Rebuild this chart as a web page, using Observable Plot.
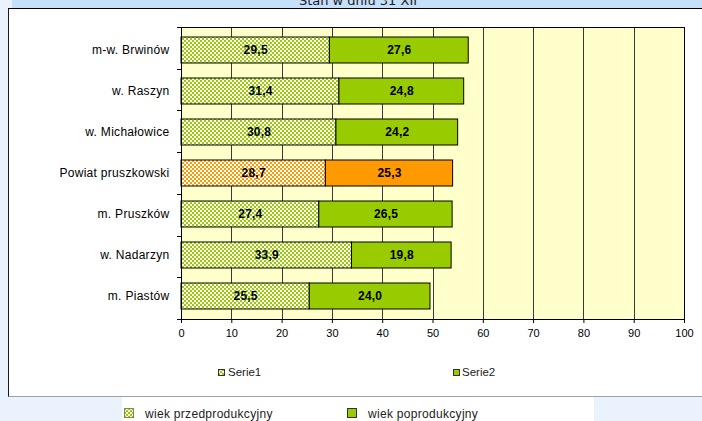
<!DOCTYPE html>
<html><head><meta charset="utf-8">
<script src="https://cdn.jsdelivr.net/npm/d3@7"></script>
<script src="https://cdn.jsdelivr.net/npm/@observablehq/plot@0.6"></script>
<style>
html,body{margin:0;padding:0;}
body{width:702px;height:421px;overflow:hidden;background:#eaf2fd;position:relative;font-family:"Liberation Sans",Arial,sans-serif;}
#band{position:absolute;left:12px;top:0;width:690px;height:8px;background:#c6dffb;}
#title{position:absolute;left:0;width:716px;top:-6px;text-align:center;font-family:"DejaVu Sans",Verdana,sans-serif;font-size:13px;line-height:13px;color:#1a1a1a;white-space:nowrap;}
#box{position:absolute;left:8px;top:8px;width:700px;height:387px;background:#fff;border-left:1px solid #1a1a1a;border-top:1px solid #000;border-bottom:1px solid #a0a0a0;}
#strip{position:absolute;left:122px;top:397px;width:472px;height:24px;background:#fff;}
#chart{position:absolute;left:0;top:0;}
.lg{position:absolute;color:#222;white-space:nowrap;line-height:14px;}
.sw{position:absolute;}
</style>
</head><body>
<div id="band"></div>
<div id="title">Stan w dniu 31 XII</div>
<div id="box"></div>
<div id="strip"></div>
<svg width="0" height="0" style="position:absolute">
  <defs>
    <pattern id="chkG" width="4" height="4" patternUnits="userSpaceOnUse">
      <rect width="4" height="4" fill="#ffffff"/>
      <rect width="2" height="2" fill="#99cc00"/>
      <rect x="2" y="2" width="2" height="2" fill="#99cc00"/>
    </pattern>
    <pattern id="chkO" width="4" height="4" patternUnits="userSpaceOnUse">
      <rect width="4" height="4" fill="#ffffff"/>
      <rect width="2" height="2" fill="#ff9900"/>
      <rect x="2" y="2" width="2" height="2" fill="#ff9900"/>
    </pattern>
  </defs>
</svg>
<div id="chart"></div>
<!-- inner legend -->
<svg class="sw" style="left:218px;top:369px" width="8" height="8"><rect x="0.5" y="0.5" width="6" height="6" fill="url(#chkG)" stroke="#333"/></svg>
<div class="lg" style="left:228px;top:365px;font-size:11.5px;">Serie1</div>
<svg class="sw" style="left:453px;top:369px" width="8" height="8"><rect x="0.5" y="0.5" width="6" height="6" fill="#99cc00" stroke="#333"/></svg>
<div class="lg" style="left:462px;top:365px;font-size:11.5px;">Serie2</div>
<!-- bottom legend -->
<svg class="sw" style="left:124px;top:408px" width="11" height="11"><rect x="0.5" y="0.5" width="9" height="9" fill="url(#chkG)" stroke="#7a8a50"/></svg>
<div class="lg" style="left:145px;top:407px;font-size:12px;letter-spacing:0.3px;">wiek przedprodukcyjny</div>
<svg class="sw" style="left:347px;top:408px" width="11" height="11"><rect x="0.5" y="0.5" width="9" height="9" fill="#99cc00" stroke="#333"/></svg>
<div class="lg" style="left:368px;top:407px;font-size:12px;letter-spacing:0.3px;">wiek poprodukcyjny</div>
<script>
const categories = ["m-w. Brwinów", "w. Raszyn", "w. Michałowice", "Powiat pruszkowski", "m. Pruszków", "w. Nadarzyn", "m. Piastów"];
const serie1 = [29.5, 31.4, 30.8, 28.7, 27.4, 33.9, 25.5];
const serie2 = [27.6, 24.8, 24.2, 25.3, 26.5, 19.8, 24.0];
const xTicks = [0, 10, 20, 30, 40, 50, 60, 70, 80, 90, 100];
const highlight = "Powiat pruszkowski";

const rows = [];
categories.forEach((c, i) => {
  rows.push({cat: c, series: 1, value: serie1[i]});
  rows.push({cat: c, series: 2, value: serie2[i]});
});
function fillFor(d) {
  if (d.cat === highlight) return d.series === 1 ? "url(#chkO)" : "#ff9900";
  return d.series === 1 ? "url(#chkG)" : "#99cc00";
}
const fmt = v => v.toFixed(1).replace(".", ",");

function boundaryTicks(index, scales, values, dims) {
  const {marginTop, marginBottom, height, marginLeft} = dims;
  const step = (height - marginTop - marginBottom) / categories.length;
  const g = d3.create("svg:g").attr("stroke", "#000").attr("shape-rendering", "crispEdges");
  for (let i = 0; i <= categories.length; i++) {
    const y = Math.round(marginTop + i * step) + 0.5;
    g.append("line").attr("x1", marginLeft - 4).attr("x2", marginLeft).attr("y1", y).attr("y2", y);
  }
  return g.node();
}

const chart = Plot.plot({
  width: 702, height: 360,
  marginLeft: 181, marginRight: 18, marginTop: 27, marginBottom: 41,
  style: {background: "transparent", fontFamily: "'Liberation Sans', Arial, sans-serif", fontSize: "11px", color: "#000", overflow: "visible"},
  x: {domain: [0, 100], label: null},
  y: {domain: categories, paddingInner: 0.37, paddingOuter: 0.185, label: null},
  color: {type: "identity"},
  marks: [
    Plot.frame({fill: "#ffffcc", stroke: null}),
    Plot.ruleX(xTicks.slice(1, -1), {stroke: "#3a3a3a", shapeRendering: "crispEdges"}),
    Plot.barX(rows, {x: "value", y: "cat", fill: fillFor, stroke: "#000", strokeWidth: 1}),
    Plot.text(rows, Plot.stackX({x: "value", y: "cat", z: "series", text: d => fmt(d.value), fontWeight: "bold", fontSize: 12, fill: "#000"})),
    Plot.frame({stroke: "#000", shapeRendering: "crispEdges"}),
    Plot.axisX({ticks: xTicks, tickSize: 4, tickPadding: 6, tickFormat: d => String(d), fontSize: 11, stroke: "#000"}),
    Plot.axisY({tickSize: 0, tickPadding: 12, fontSize: 12}),
    boundaryTicks
  ]
});
d3.select(chart).selectAll('g[aria-label="y-axis tick label"] text').attr("letter-spacing", "0.3px");
d3.select(chart).selectAll('g[aria-label="text"] text').attr("letter-spacing", "0.2px");
document.getElementById("chart").appendChild(chart);
</script>
</body></html>
